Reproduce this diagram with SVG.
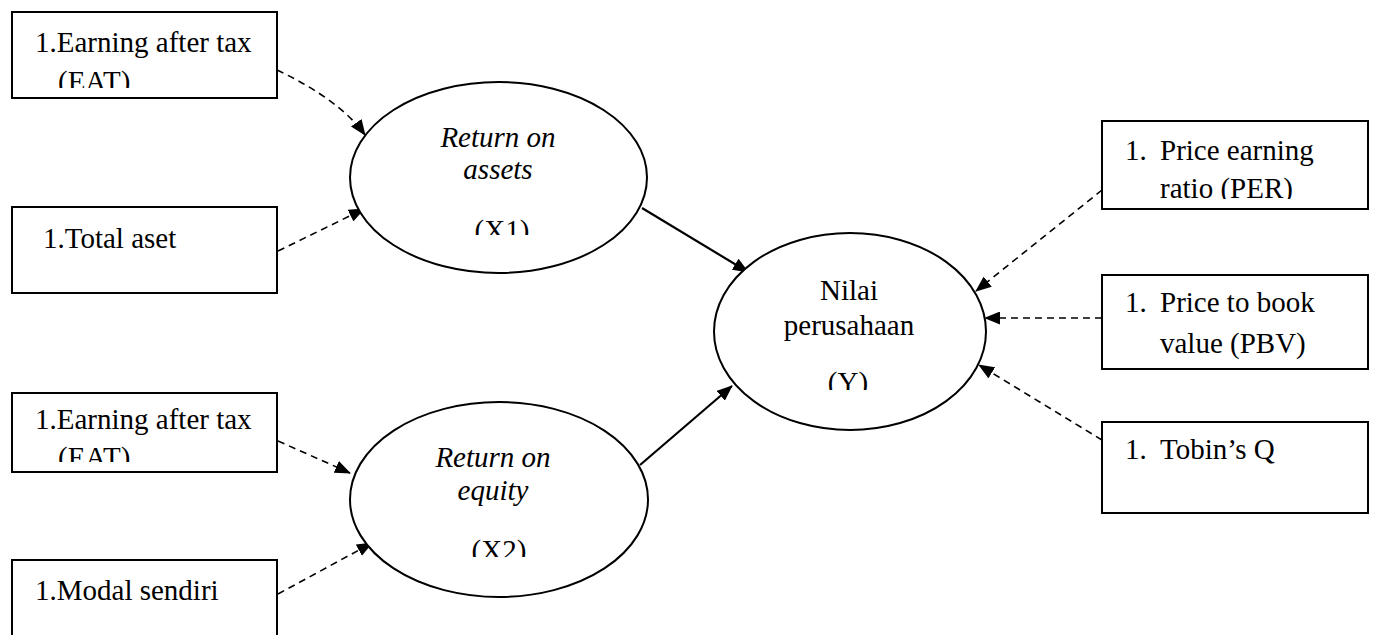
<svg xmlns="http://www.w3.org/2000/svg" width="1374" height="635" viewBox="0 0 1374 635">
<style>
.box{fill:#fff;stroke:#000;stroke-width:2}
.ell{fill:#fff;stroke:#000;stroke-width:2}
.t{font-family:"Liberation Serif","Times New Roman",serif;font-size:29px;fill:#000}
.i{font-style:italic}
.c{text-anchor:middle}
.d{stroke:#000;stroke-width:1.6;stroke-dasharray:7 5;fill:none}
.s{stroke:#000;stroke-width:2.2;fill:none}
</style>
<defs>
<marker id="ah" markerUnits="userSpaceOnUse" markerWidth="16" markerHeight="13" refX="15" refY="6.5" orient="auto">
<path d="M0,0 L16,6.5 L0,13 z" fill="#000"/>
</marker>
<clipPath id="c1"><rect x="0" y="0" width="300" height="88"/></clipPath>
<clipPath id="c3"><rect x="0" y="380" width="300" height="82"/></clipPath>
<clipPath id="cx1"><rect x="400" y="200" width="200" height="35"/></clipPath>
<clipPath id="cx2"><rect x="400" y="520" width="200" height="37"/></clipPath>
<clipPath id="cy"><rect x="760" y="350" width="200" height="40"/></clipPath>
<clipPath id="cper"><rect x="1100" y="170" width="270" height="29"/></clipPath>
</defs>
<g id="connectors">
<path class="d" d="M277,70 Q340,100 365,135" marker-end="url(#ah)"/>
<line class="d" x1="278" y1="251" x2="364" y2="209" marker-end="url(#ah)"/>
<line class="d" x1="278" y1="441" x2="350" y2="473" marker-end="url(#ah)"/>
<line class="d" x1="278" y1="594" x2="372" y2="543" marker-end="url(#ah)"/>
<line class="s" x1="642" y1="208" x2="748" y2="272" marker-end="url(#ah)"/>
<line class="s" x1="640" y1="465" x2="732" y2="386" marker-end="url(#ah)"/>
<line class="d" x1="1102" y1="190" x2="976" y2="291" marker-end="url(#ah)"/>
<line class="d" x1="1102" y1="318" x2="985" y2="318" marker-end="url(#ah)"/>
<line class="d" x1="1102" y1="440" x2="979" y2="365" marker-end="url(#ah)"/>
</g>
<g id="eat1">
<rect class="box" x="12" y="12" width="265" height="86"/>
<text class="t" x="35" y="52">1.Earning after tax</text>
<text class="t" x="58" y="91" clip-path="url(#c1)">(EAT)</text>
</g>
<g id="totalaset">
<rect class="box" x="12" y="207" width="265" height="86"/>
<text class="t" x="43" y="248">1.Total aset</text>
</g>
<g id="eat2">
<rect class="box" x="12" y="393" width="265" height="79"/>
<text class="t" x="35" y="429">1.Earning after tax</text>
<text class="t" x="58" y="467" clip-path="url(#c3)">(EAT)</text>
</g>
<g id="modal">
<rect class="box" x="12" y="560" width="265" height="100"/>
<text class="t" x="35" y="600">1.Modal sendiri</text>
</g>
<g id="x1">
<ellipse class="ell" cx="498.5" cy="177.5" rx="148.5" ry="95.5"/>
<text class="t i c" x="498" y="147">Return on</text>
<text class="t i c" x="498" y="179">assets</text>
<text class="t c" x="502" y="240" clip-path="url(#cx1)">(X1)</text>
</g>
<g id="x2">
<ellipse class="ell" cx="499" cy="499.5" rx="149" ry="97.5"/>
<text class="t i c" x="493" y="467">Return on</text>
<text class="t i c" x="493" y="500">equity</text>
<text class="t c" x="499" y="560" clip-path="url(#cx2)">(X2)</text>
</g>
<g id="y">
<ellipse class="ell" cx="850" cy="331.5" rx="136" ry="98.5"/>
<text class="t c" x="849" y="300">Nilai</text>
<text class="t c" x="849" y="335">perusahaan</text>
<text class="t c" x="848" y="392" clip-path="url(#cy)">(Y)</text>
</g>
<g id="per">
<rect class="box" x="1102" y="121" width="266" height="88"/>
<text class="t" x="1125" y="160">1.</text>
<text class="t" x="1160" y="160">Price earning</text>
<text class="t" x="1160" y="198" clip-path="url(#cper)">ratio (PER)</text>
</g>
<g id="pbv">
<rect class="box" x="1102" y="275" width="266" height="94"/>
<text class="t" x="1125" y="312">1.</text>
<text class="t" x="1160" y="312">Price to book</text>
<text class="t" x="1160" y="353">value (PBV)</text>
</g>
<g id="tobin">
<rect class="box" x="1102" y="422" width="266" height="91"/>
<text class="t" x="1125" y="459">1.</text>
<text class="t" x="1160" y="459">Tobin’s Q</text>
</g>
</svg>
